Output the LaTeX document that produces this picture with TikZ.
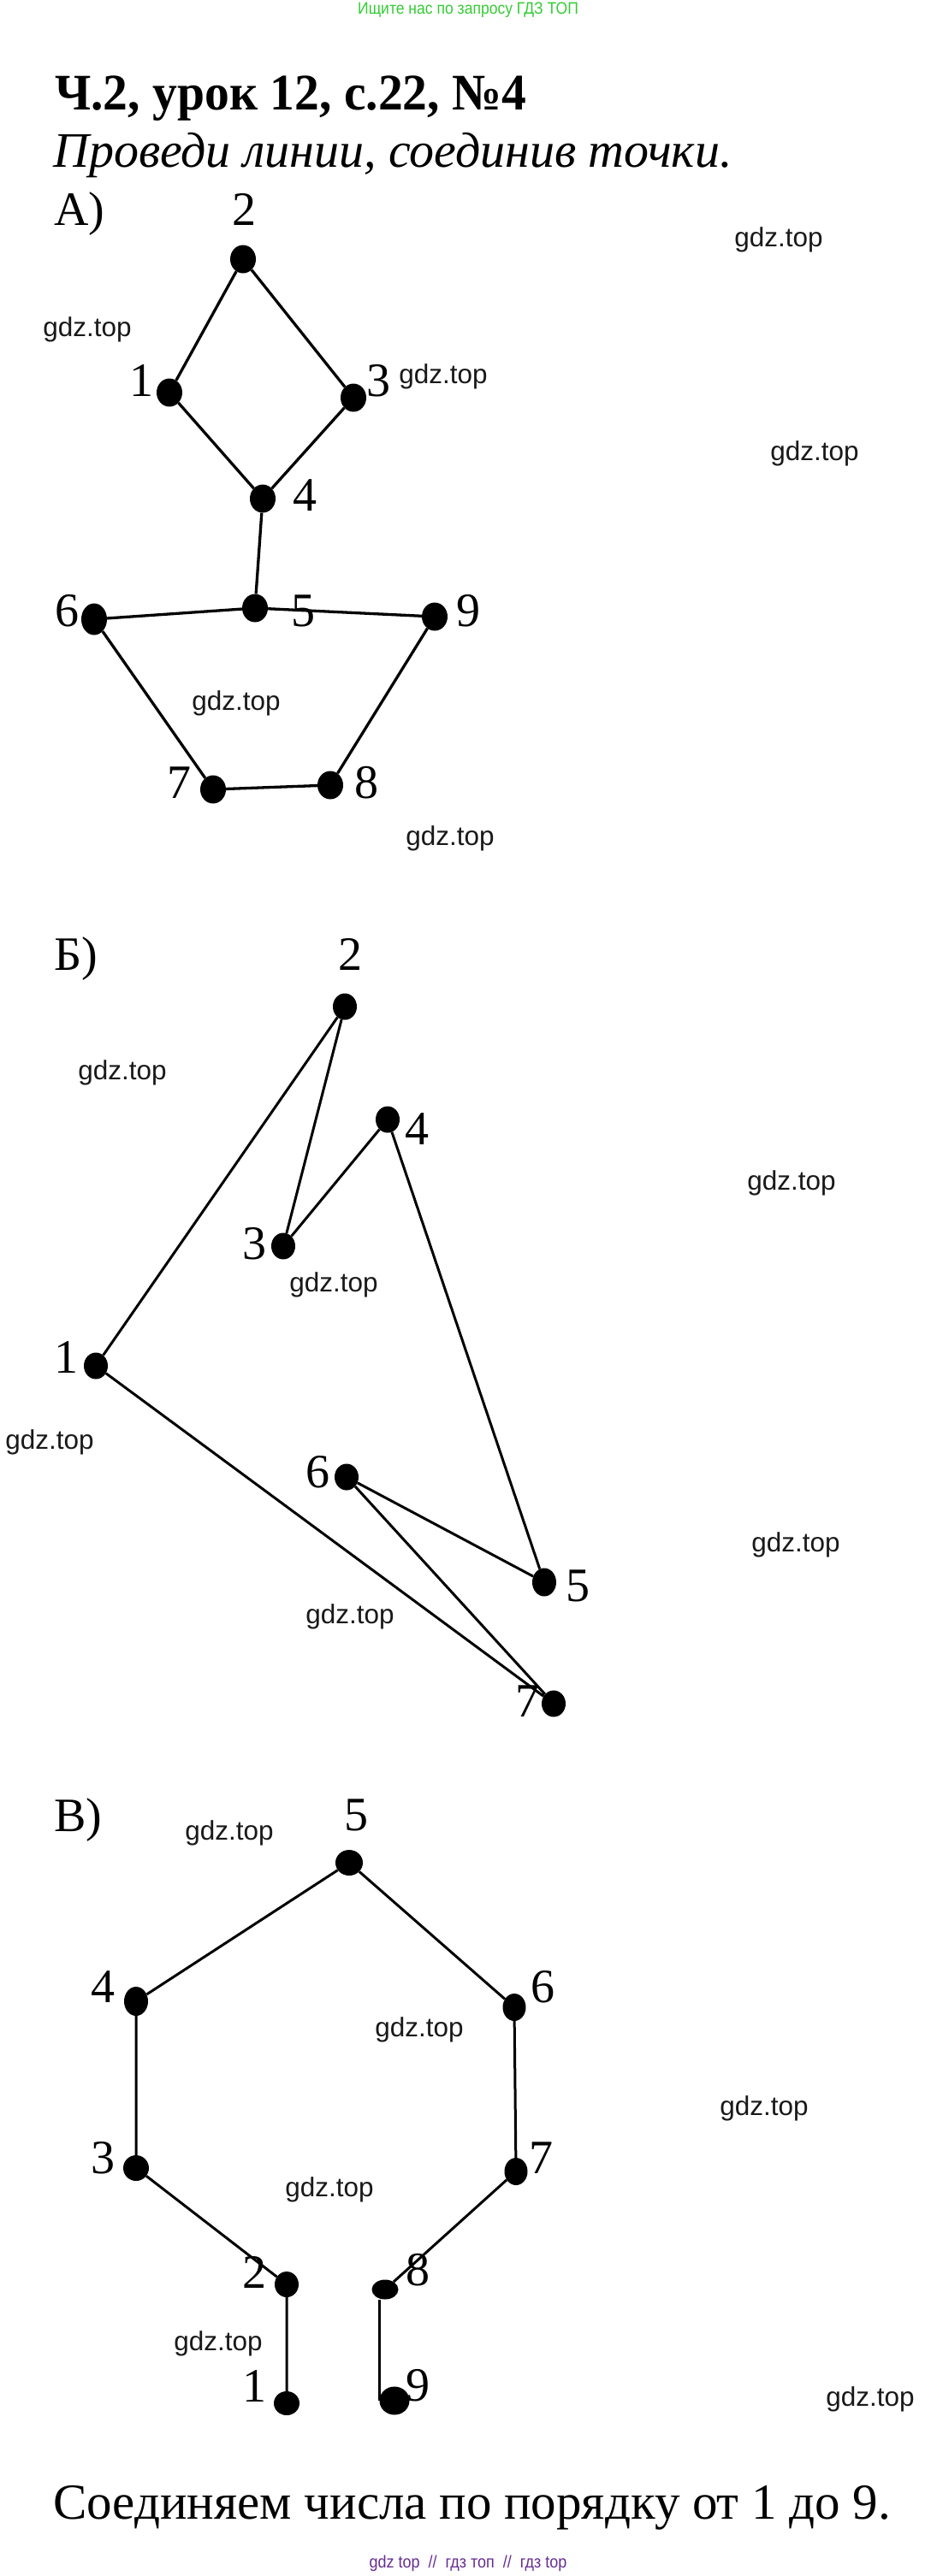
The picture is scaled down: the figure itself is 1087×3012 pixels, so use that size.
\documentclass[tikz,border=0pt]{standalone}
\usepackage{fontspec}
\setmainfont{Liberation Serif}
\newfontfamily\titlefont[FakeStretch=0.96]{Liberation Serif}
\newfontfamily\wmfont{Liberation Sans}
\newfontfamily\narrowfont[FakeStretch=0.9]{Liberation Sans}
\usetikzlibrary{shapes.geometric}
\definecolor{topgreen}{RGB}{51,204,51}
\definecolor{footpurple}{RGB}{102,45,145}
\tikzset{
  dot/.style={ellipse,fill=black,inner sep=0pt,minimum width=30pt,minimum height=33pt},
  num/.style={anchor=base,inner sep=0pt,font=\fontsize{56}{56}\selectfont},
  part/.style={anchor=base west,inner sep=0pt,font=\fontsize{56}{56}\selectfont},
  wm/.style={inner sep=0pt,text=black!90,font=\wmfont\fontsize{31.5}{31.5}\selectfont},
  link/.style={line width=3.3pt},
}

\begin{document}
\begin{tikzpicture}[x=1pt,y=-1pt]
  \useasboundingbox (0,0) rectangle (1087,3012);
  \node[inner sep=0pt,text=topgreen,font=\narrowfont\fontsize{19.5}{19.5}\selectfont] (search) at (547,12) {Ищите нас по запросу ГДЗ ТОП};
  \node[anchor=base west,inner sep=0pt,font=\titlefont\bfseries\fontsize{60}{60}\selectfont] (title) at (64,128) {Ч.2, урок 12, с.22, №4};
  \node[anchor=base west,inner sep=0pt,font=\itshape\fontsize{58}{58}\selectfont] (task) at (62,195) {Проведи линии, соединив точки.};

  \node[part] (partA) at (63,263) {А)};
  \node[num] (la2) at (285,263) {2};
  \node[num] (la1) at (165,463) {1};
  \node[num] (la3) at (442,463) {3};
  \node[num] (la4) at (356,597) {4};
  \node[num] (la5) at (354,732) {5};
  \node[num] (la6) at (78,732) {6};
  \node[num] (la9) at (547,732) {9};
  \node[num] (la7) at (209,933) {7};
  \node[num] (la8) at (428,933) {8};
  \node[dot] (a1) at (198,459) {};
  \node[dot] (a2) at (284,303) {};
  \node[dot] (a3) at (413,465) {};
  \node[dot] (a4) at (307,583) {};
  \node[dot] (a5) at (298,711) {};
  \node[dot,minimum height=37pt] (a6) at (110,724) {};
  \node[dot] (a7) at (249,923) {};
  \node[dot] (a8) at (386,918) {};
  \node[dot] (a9) at (508,721) {};
  \draw[link] (a1) -- (a2) -- (a3) -- (a4) -- (a1);
  \draw[link] (a4) -- (a5) -- (a6) -- (a7) -- (a8) -- (a9) -- (a5);
  \node[wm] (wa1) at (910,280) {gdz.top};
  \node[wm] (wa2) at (102,385) {gdz.top};
  \node[wm] (wa3) at (518,440) {gdz.top};
  \node[wm] (wa4) at (952,530) {gdz.top};
  \node[wm] (wa5) at (276,822) {gdz.top};
  \node[wm] (wa6) at (526,980) {gdz.top};

  \node[part] (partB) at (63,1134) {Б)};
  \node[num] (lb2) at (409,1134) {2};
  \node[num] (lb4) at (487,1338) {4};
  \node[num] (lb3) at (297,1472) {3};
  \node[num] (lb1) at (77,1605) {1};
  \node[num] (lb6) at (371,1739) {6};
  \node[num] (lb5) at (675,1872) {5};
  \node[num] (lb7) at (616,2007) {7};
  \node[dot,minimum width=28pt,minimum height=31pt] (b1) at (112,1597) {};
  \node[dot,minimum width=28pt,minimum height=31pt] (b2) at (403,1177) {};
  \node[dot,minimum width=28pt,minimum height=31pt] (b3) at (331,1457) {};
  \node[dot,minimum width=28pt,minimum height=31pt] (b4) at (453,1309) {};
  \node[dot,minimum width=28pt,minimum height=33pt] (b5) at (636,1850) {};
  \node[dot,minimum width=28pt,minimum height=31pt] (b6) at (405,1727) {};
  \node[dot,minimum width=28pt,minimum height=31pt] (b7) at (647,1992) {};
  \draw[link,line width=3pt] (b1) -- (b2) -- (b3) -- (b4) -- (b5) -- (b6) -- (b7) -- (b1);
  \node[wm] (wb1) at (143,1254) {gdz.top};
  \node[wm] (wb2) at (925,1383) {gdz.top};
  \node[wm] (wb3) at (390,1502) {gdz.top};
  \node[wm] (wb4) at (58,1686) {gdz.top};
  \node[wm] (wb5) at (930,1806) {gdz.top};
  \node[wm] (wb6) at (409,1890) {gdz.top};

  \node[part] (partC) at (63,2141) {В)};
  \node[num] (lc5) at (416,2140) {5};
  \node[num] (lc4) at (120,2341) {4};
  \node[num] (lc6) at (634,2341) {6};
  \node[num] (lc3) at (120,2541) {3};
  \node[num] (lc7) at (632,2541) {7};
  \node[num] (lc2) at (297,2675) {2};
  \node[num] (lc8) at (488,2672) {8};
  \node[num] (lc1) at (297,2808) {1};
  \node[num] (lc9) at (488,2807) {9};
  \node[dot,minimum width=30pt,minimum height=28pt] (c1) at (335,2810) {};
  \node[dot,minimum width=28pt,minimum height=30pt] (c2) at (335,2671) {};
  \node[dot,minimum width=30pt,minimum height=30pt] (c3) at (159,2535) {};
  \node[dot,minimum width=28pt,minimum height=34pt] (c4) at (159,2340) {};
  \node[dot,minimum width=32pt,minimum height=30pt] (c5) at (408,2178) {};
  \node[dot,minimum width=27pt,minimum height=32pt] (c6) at (601,2347) {};
  \node[dot,minimum width=27pt,minimum height=32pt] (c7) at (603,2539) {};
  \node[dot,minimum width=31pt,minimum height=23pt] (c8) at (450,2677) {};
  \node[dot,minimum width=35pt,minimum height=33pt] (c9) at (461,2807) {};
  \draw[link,line width=3pt] (c1) -- (c2) -- (c3) -- (c4) -- (c5) -- (c6) -- (c7) -- (c8);
  \draw[link,line width=3pt] (c8.south -| c9.west) -- (c9.west);
  \node[wm] (wc1) at (268,2143) {gdz.top};
  \node[wm] (wc2) at (490,2373) {gdz.top};
  \node[wm] (wc3) at (893,2465) {gdz.top};
  \node[wm] (wc4) at (385,2560) {gdz.top};
  \node[wm] (wc5) at (255,2740) {gdz.top};
  \node[wm] (wc6) at (1017,2805) {gdz.top};

  \node[anchor=base west,inner sep=0pt,font=\fontsize{59}{59}\selectfont] (summary) at (62,2945) {Соединяем числа по порядку от 1 до 9.};
  \node[inner sep=0pt,text=footpurple,font=\narrowfont\fontsize{20}{20}\selectfont] (footer) at (547,2997) {gdz top \ // \ гдз топ \ // \ гдз top};
\end{tikzpicture}
\end{document}
